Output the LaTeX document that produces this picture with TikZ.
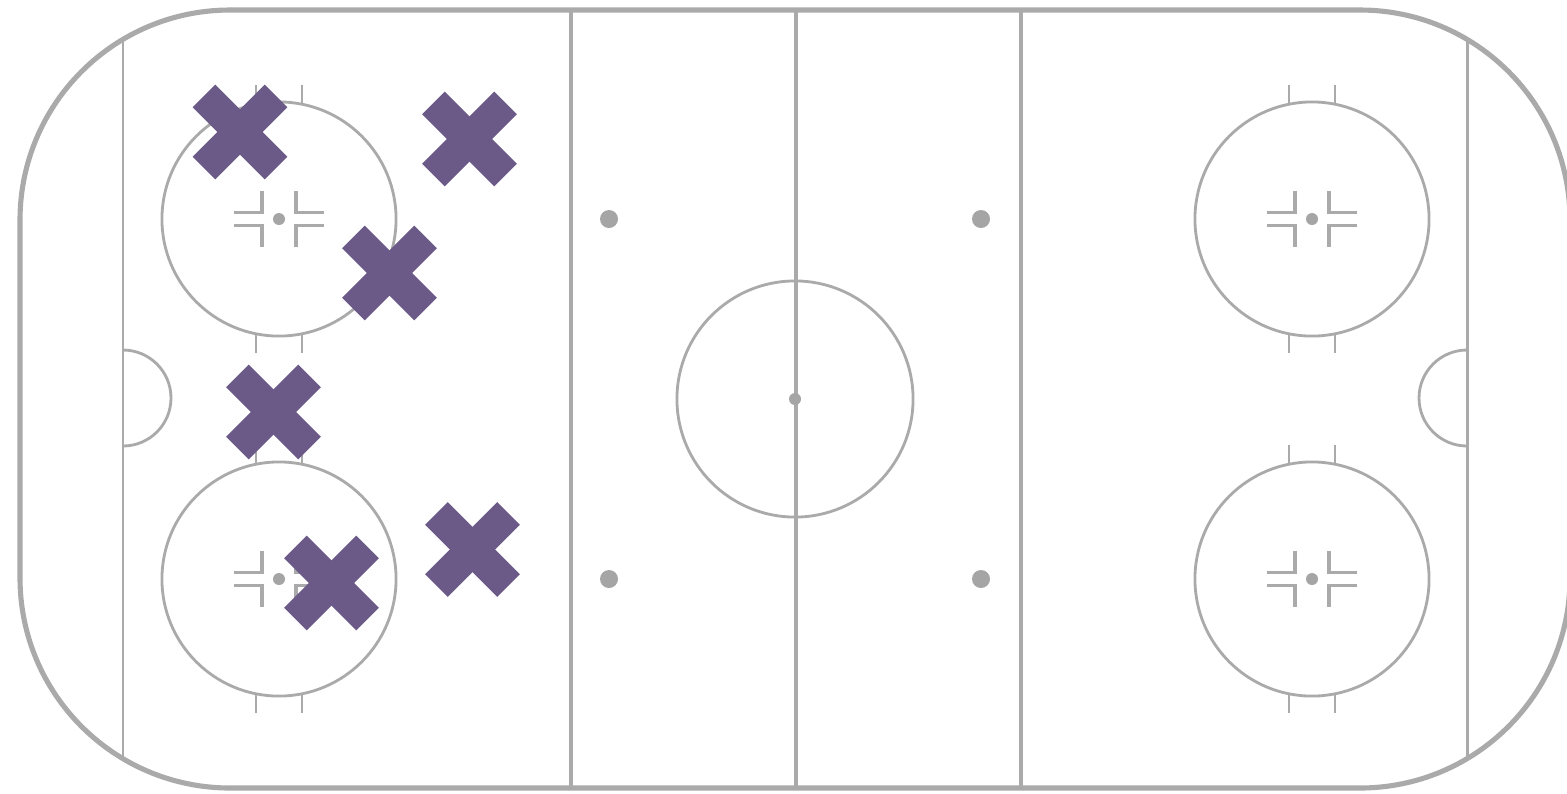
\documentclass[tikz,border=0pt]{standalone}
\usetikzlibrary{calc}
\definecolor{rinkgray}{RGB}{170,170,170}
\definecolor{dotgray}{RGB}{165,165,165}
\definecolor{xpurple}{RGB}{107,89,136}
\tikzset{
  outline/.style={draw=rinkgray, line width=1.45pt},
  bigline/.style={draw=rinkgray, line width=1.15pt},
  goalline/.style={draw=rinkgray, line width=0.85pt},
  thinline/.style={draw=rinkgray, line width=0.8pt},
  hashline/.style={draw=rinkgray, line width=0.95pt},
  fcircle/.style={circle, draw=rinkgray, line width=0.8pt, minimum size=2.34cm, inner sep=0pt},
  ccircle/.style={circle, draw=rinkgray, line width=0.8pt, minimum size=2.36cm, inner sep=0pt},
  smalldot/.style={circle, fill=dotgray, minimum size=0.12cm, inner sep=0pt},
  bigdot/.style={circle, fill=dotgray, minimum size=0.18cm, inner sep=0pt},
  xbar/.style={rectangle, fill=xpurple, minimum width=1.02cm, minimum height=0.32cm, inner sep=0pt},
}
\begin{document}
\begin{tikzpicture}[x=0.01cm, y=-0.01cm]
\useasboundingbox (0,0) rectangle (1567,793);
\fill[white] (0,0) rectangle (1567,793);
% rink lines clipped to boards
\begin{scope}
  \clip[rounded corners=2.1cm] (20,10) rectangle (1570,788);
  \draw[goalline] (123,0) -- (123,793);
  \draw[goalline] (1467,0) -- (1467,793);
  \draw[bigline] (571,0) -- (571,793);
  \draw[bigline] (1021,0) -- (1021,793);
  \draw[bigline] (796,0) -- (796,793);
\end{scope}
\draw[outline, rounded corners=2.1cm] (20,10) rectangle (1570,788);
% creases
\draw[thinline] (123,446) arc[start angle=90, end angle=-90, radius=48];
\draw[thinline] (1467,446) arc[start angle=90, end angle=270, radius=48];
% center circle
\node[ccircle] (cc) at (795,399) {};
\node[smalldot] (cdot) at (795,399) {};
% neutral zone dots
\node[bigdot] (n1) at (609,219) {};
\node[bigdot] (n2) at (609,579) {};
\node[bigdot] (n3) at (981,219) {};
\node[bigdot] (n4) at (981,579) {};
% faceoff circles
\foreach \cx/\cy/\nm in {279/219/fa,279/579/fb,1312/219/fc,1312/579/fd}{
  \node[fcircle] (\nm) at (\cx,\cy) {};
  \node[smalldot] (\nm dot) at (\cx,\cy) {};
  \draw[thinline] (\cx-23,\cy-115) -- (\cx-23,\cy-134);
  \draw[thinline] (\cx+23,\cy-115) -- (\cx+23,\cy-134);
  \draw[thinline] (\cx-23,\cy+115) -- (\cx-23,\cy+134);
  \draw[thinline] (\cx+23,\cy+115) -- (\cx+23,\cy+134);
  \foreach \sx in {-1,1}{
    \foreach \sy in {-1,1}{
      \draw[hashline] (\cx+\sx*45,\cy+\sy*6.5) -- (\cx+\sx*17,\cy+\sy*6.5) -- (\cx+\sx*17,\cy+\sy*28);
    }
  }
}
% X marks
\foreach \px/\py/\nm in {240/132/xa,469.5/139/xb,389.5/273/xc,273.5/412/xd,472.5/549.5/xe,331.5/583/xf}{
  \node[xbar, rotate=45] (\nm1) at (\px,\py) {};
  \node[xbar, rotate=-45] (\nm2) at (\px,\py) {};
}
\end{tikzpicture}
\end{document}
